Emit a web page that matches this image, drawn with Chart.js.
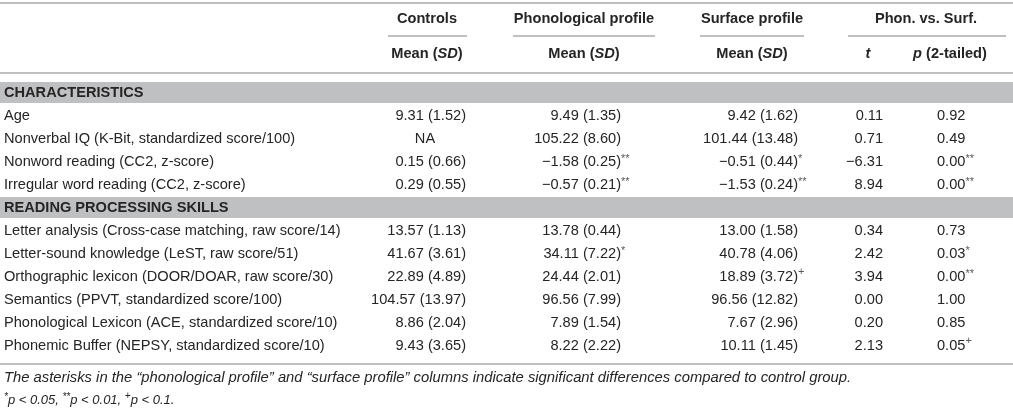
<!DOCTYPE html>
<html>
<head>
<meta charset="utf-8">
<script src="https://cdn.jsdelivr.net/npm/chart.js@4"></script>
<style>
  html, body { margin: 0; padding: 0; background: #ffffff; }
  #wrap { position: relative; width: 1013px; height: 413px; }
</style>
</head>
<body>
<div id="wrap"><canvas id="c"></canvas></div>
<script>
// ---------- DATA ----------
const groupHeaders = ['Controls', 'Phonological profile', 'Surface profile', 'Phon. vs. Surf.'];
const sectionTitles = ['CHARACTERISTICS', 'READING PROCESSING SKILLS'];
const measures = [
  'Age',
  'Nonverbal IQ (K-Bit, standardized score/100)',
  'Nonword reading (CC2, z-score)',
  'Irregular word reading (CC2, z-score)',
  'Letter analysis (Cross-case matching, raw score/14)',
  'Letter-sound knowledge (LeST, raw score/51)',
  'Orthographic lexicon (DOOR/DOAR, raw score/30)',
  'Semantics (PPVT, standardized score/100)',
  'Phonological Lexicon (ACE, standardized score/10)',
  'Phonemic Buffer (NEPSY, standardized score/10)'
];
const measureSection = [0, 0, 0, 0, 1, 1, 1, 1, 1, 1];
const controlsMean = [9.31, null, 0.15, 0.29, 13.57, 41.67, 22.89, 104.57, 8.86, 9.43];
const controlsSD   = [1.52, null, 0.66, 0.55, 1.13, 3.61, 4.89, 13.97, 2.04, 3.65];
const phonMean = [9.49, 105.22, -1.58, -0.57, 13.78, 34.11, 24.44, 96.56, 7.89, 8.22];
const phonSD   = [1.35, 8.60, 0.25, 0.21, 0.44, 7.22, 2.01, 7.99, 1.54, 2.22];
const phonSig  = ['', '', '**', '**', '', '*', '', '', '', ''];
const surfMean = [9.42, 101.44, -0.51, -1.53, 13.00, 40.78, 18.89, 96.56, 7.67, 10.11];
const surfSD   = [1.62, 13.48, 0.44, 0.24, 1.58, 4.06, 3.72, 12.82, 2.96, 1.45];
const surfSig  = ['', '', '*', '**', '', '', '+', '', '', ''];
const tValues  = [0.11, 0.71, -6.31, 8.94, 0.34, 2.42, 3.94, 0.00, 0.20, 2.13];
const pValues  = [0.92, 0.49, 0.00, 0.00, 0.73, 0.03, 0.00, 1.00, 0.85, 0.05];
const pSig     = ['', '', '**', '**', '', '*', '**', '', '', '+'];
const footnote1 = 'The asterisks in the \u201cphonological profile\u201d and \u201csurface profile\u201d columns indicate significant differences compared to control group.';
const footnote2 = [['*', 'p < 0.05, '], ['**', 'p < 0.01, '], ['+', 'p < 0.1.']];

// ---------- BUILD ROWS ----------
const rowLabels = [];
const rowKind = [];   // 'section' or index into measures
sectionTitles.forEach((s, si) => {
  rowLabels.push(s); rowKind.push('section');
  measures.forEach((m, mi) => {
    if (measureSection[mi] === si) { rowLabels.push(m); rowKind.push(mi); }
  });
});

// ---------- STYLE / LAYOUT ----------
const FONT = '"Liberation Sans", Arial, Helvetica, sans-serif';
const TXT = '#262425';
const RULE = '#a9abae';
const BAND = '#bfc0c2';
const FS = 14.6;
const W = 1013;
const col = {
  label: 4,
  ctrlRight: 466, phonRight: 621, surfRight: 798, tRight: 883, pLeft: 937,
  naCenter: 425,
  hdr: [427, 584, 752, 926],
  under: [[388, 467], [513, 655], [700, 804], [848, 1006]],
  sub: [427, 584, 752, 868, 950]
};

function fmt(v) {
  const s = Math.abs(v).toFixed(2);
  return v < 0 ? '\u2212' + s : s;
}

function runsWidth(ctx, runs) {
  let w = 0;
  runs.forEach(r => { ctx.font = r.font; w += ctx.measureText(r.text).width; });
  return w;
}
function drawRuns(ctx, runs, x, y, align) {
  const w = runsWidth(ctx, runs);
  let cx = align === 'center' ? x - w / 2 : (align === 'right' ? x - w : x);
  runs.forEach(r => {
    ctx.font = r.font;
    ctx.fillStyle = r.color || TXT;
    ctx.fillText(r.text, cx, y + (r.dy || 0));
    cx += ctx.measureText(r.text).width;
  });
}
const REG = FS + 'px ' + FONT;
const BOLD = 'bold ' + FS + 'px ' + FONT;
const BOLDIT = 'italic bold ' + FS + 'px ' + FONT;
const SUP = '11px ' + FONT;
function supRun(s) {
  return { text: s, font: SUP, dy: s === '+' ? -4.5 : -2.5, color: '#58595b' };
}
function valueCell(ctx, mean, sd, sig, xRight, y) {
  const main = { text: fmt(mean) + ' (' + sd.toFixed(2) + ')', font: REG };
  ctx.font = REG;
  const w = ctx.measureText(main.text).width;
  const runs = [main];
  if (sig) runs.push(supRun(sig));
  drawRuns(ctx, runs, xRight - w, y, 'left');
}

const tablePlugin = {
  id: 'tableText',
  afterDatasetsDraw(chart) {
    const ctx = chart.ctx;
    const xs = chart.scales.x, ys = chart.scales.y;
    const top = chart.chartArea.top, bottom = chart.chartArea.bottom;
    const X = v => xs.getPixelForValue(v);
    ctx.save();
    ctx.textBaseline = 'middle';

    // rules
    ctx.strokeStyle = RULE;
    ctx.lineWidth = 1.5;
    const hline = (x0, x1, y) => { ctx.beginPath(); ctx.moveTo(X(x0), y); ctx.lineTo(X(x1), y); ctx.stroke(); };
    hline(0, W, top - 78);
    col.under.forEach(u => hline(u[0], u[1], top - 45));
    hline(0, W, top - 8);
    hline(0, W, bottom + 7);

    // header row 1
    groupHeaders.forEach((h, i) => drawRuns(ctx, [{ text: h, font: BOLD }], X(col.hdr[i]), top - 62, 'center'));
    // header row 2
    const meanSD = [{ text: 'Mean (', font: BOLD }, { text: 'SD', font: BOLDIT }, { text: ')', font: BOLD }];
    for (let i = 0; i < 3; i++) drawRuns(ctx, meanSD, X(col.sub[i]), top - 27, 'center');
    drawRuns(ctx, [{ text: 't', font: BOLDIT }], X(col.sub[3]), top - 27, 'center');
    drawRuns(ctx, [{ text: 'p', font: BOLDIT }, { text: ' (2-tailed)', font: BOLD }], X(col.sub[4]), top - 27, 'center');

    // body
    rowLabels.forEach((lab, r) => {
      const y = ys.getPixelForValue(r);
      const k = rowKind[r];
      if (k === 'section') {
        drawRuns(ctx, [{ text: lab, font: BOLD }], X(col.label), y, 'left');
        return;
      }
      drawRuns(ctx, [{ text: lab, font: REG }], X(col.label), y, 'left');
      if (controlsMean[k] === null) {
        drawRuns(ctx, [{ text: 'NA', font: REG }], X(col.naCenter), y, 'center');
      } else {
        valueCell(ctx, controlsMean[k], controlsSD[k], '', X(col.ctrlRight), y);
      }
      valueCell(ctx, phonMean[k], phonSD[k], phonSig[k], X(col.phonRight), y);
      valueCell(ctx, surfMean[k], surfSD[k], surfSig[k], X(col.surfRight), y);
      drawRuns(ctx, [{ text: fmt(tValues[k]), font: REG }], X(col.tRight), y, 'right');
      const pr = [{ text: pValues[k].toFixed(2), font: REG }];
      if (pSig[k]) pr.push(supRun(pSig[k]));
      drawRuns(ctx, pr, X(col.pLeft), y, 'left');
    });

    // footnotes
    const IT = 'italic 14.8px ' + FONT;
    const IT2 = 'italic 13px ' + FONT;
    const ITSUP = 'italic 10px ' + FONT;
    drawRuns(ctx, [{ text: footnote1, font: IT }], X(col.label), bottom + 21, 'left');
    const fr = [];
    footnote2.forEach(([s, t]) => {
      fr.push({ text: s, font: ITSUP, dy: s === '+' ? -4 : -2.5 });
      fr.push({ text: t, font: IT2 });
    });
    drawRuns(ctx, fr, X(col.label), bottom + 43, 'left');
    ctx.restore();
  }
};

const bandData = rowKind.map(k => k === 'section' ? [0, W] : null);

new Chart(document.getElementById('c'), {
  type: 'bar',
  data: {
    labels: rowLabels,
    datasets: [{
      data: bandData,
      backgroundColor: BAND,
      borderWidth: 0,
      categoryPercentage: 1,
      barPercentage: 0.92
    }]
  },
  options: {
    indexAxis: 'y',
    responsive: true,
    maintainAspectRatio: false,
    animation: false,
    layout: { padding: { top: 81, bottom: 56, left: 0, right: 0 } },
    plugins: { legend: { display: false }, tooltip: { enabled: false }, title: { display: false } },
    scales: {
      x: { type: 'linear', min: 0, max: W, display: false },
      y: { type: 'category', display: false, offset: true }
    }
  },
  plugins: [tablePlugin]
});
</script>
</body>
</html>
